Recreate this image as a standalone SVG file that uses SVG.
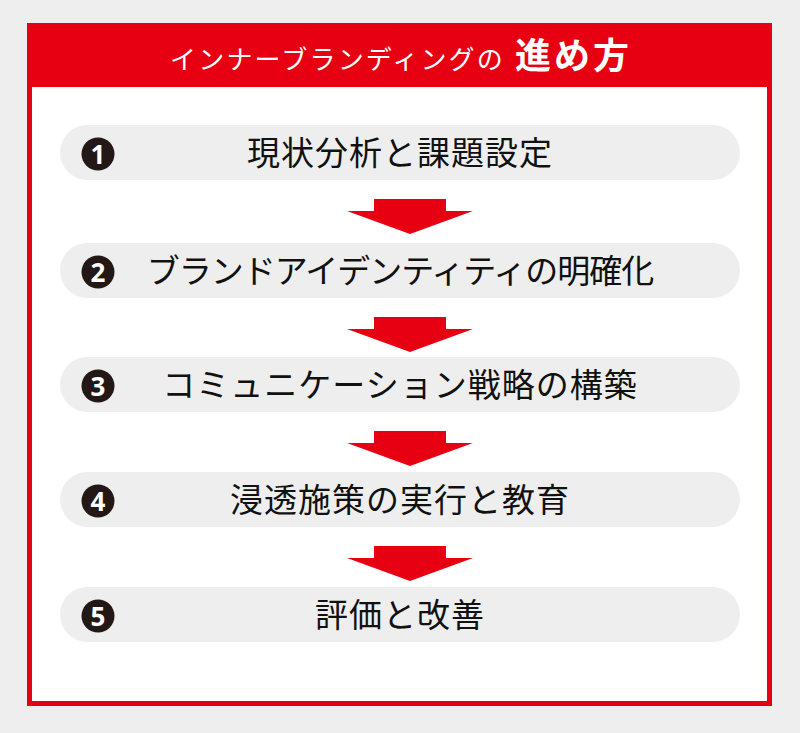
<svg xmlns="http://www.w3.org/2000/svg" width="800" height="733" viewBox="0 0 800 733">
<defs>
<style>
.pill{fill:#eeeeee}
.num{fill:#231815}
.numt{fill:#ffffff;font-family:"Noto Sans","Liberation Sans",sans-serif;font-weight:bold;font-size:26px;text-anchor:middle}
.lbl{fill:#111111;font-family:"Noto Sans CJK JP",sans-serif;font-size:33px;letter-spacing:1px;text-anchor:middle}
.arrow{fill:#e60012}
</style>
<path id="arr" d="M374,0 H446 V12 H473 L410,35 L347,12 H374 Z"/>
</defs>
<rect x="0" y="0" width="800" height="733" fill="#eeeeee"/>
<g id="frame">
<rect x="29.5" y="25.5" width="740" height="678" fill="#ffffff" stroke="#e60012" stroke-width="5"/>
<rect x="27" y="23" width="745" height="64" fill="#e60012"/>
<text x="170" y="69" fill="#ffffff" font-family="'Noto Sans CJK JP',sans-serif"><tspan font-size="26" letter-spacing="2.2">インナーブランディングの</tspan><tspan dx="10" font-size="36" font-weight="bold" letter-spacing="3">進め方</tspan></text>
</g>
<g id="connectors">
<use href="#arr" class="arrow" transform="translate(0,199)"/>
<use href="#arr" class="arrow" transform="translate(0,317)"/>
<use href="#arr" class="arrow" transform="translate(0,431)"/>
<use href="#arr" class="arrow" transform="translate(0,546)"/>
</g>
<g id="step1">
<rect class="pill" x="60" y="125" width="680" height="55" rx="27.5"/>
<circle class="num" cx="98" cy="154" r="16.5"/>
<text class="numt" x="98" y="163.5">1</text>
<text class="lbl" x="400" y="165">現状分析と課題設定</text>
</g>
<g id="step2">
<rect class="pill" x="60" y="243" width="680" height="55" rx="27.5"/>
<circle class="num" cx="98" cy="272" r="16.5"/>
<text class="numt" x="98" y="281.5">2</text>
<text class="lbl" x="400" y="283" style="letter-spacing:-1px">ブランドアイデンティティの明確化</text>
</g>
<g id="step3">
<rect class="pill" x="60" y="357" width="680" height="55" rx="27.5"/>
<circle class="num" cx="98" cy="386" r="16.5"/>
<text class="numt" x="98" y="395.5">3</text>
<text class="lbl" x="400" y="397">コミュニケーション戦略の構築</text>
</g>
<g id="step4">
<rect class="pill" x="60" y="472" width="680" height="55" rx="27.5"/>
<circle class="num" cx="98" cy="501" r="16.5"/>
<text class="numt" x="98" y="510.5">4</text>
<text class="lbl" x="400" y="512">浸透施策の実行と教育</text>
</g>
<g id="step5">
<rect class="pill" x="60" y="587" width="680" height="55" rx="27.5"/>
<circle class="num" cx="98" cy="616" r="16.5"/>
<text class="numt" x="98" y="625.5">5</text>
<text class="lbl" x="400" y="627">評価と改善</text>
</g>
</svg>
